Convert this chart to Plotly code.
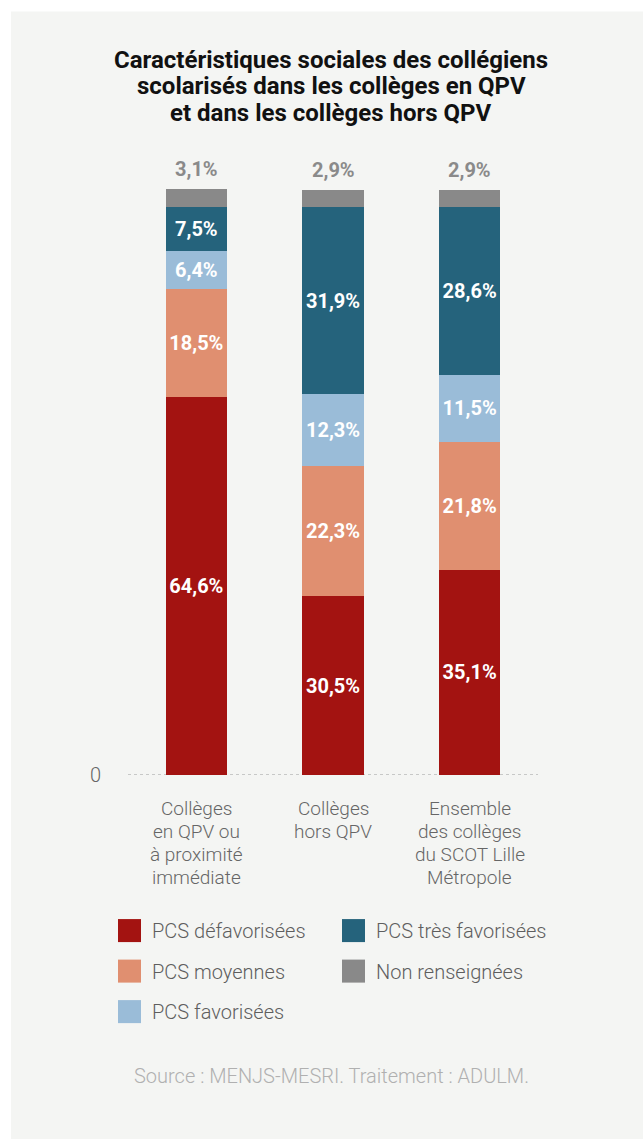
import plotly.graph_objects as go

# ---------------- data ----------------
categories = [
    "Collèges<br>en QPV ou<br>à proximité<br>immédiate",
    "Collèges<br>hors QPV",
    "Ensemble<br>des collèges<br>du SCOT Lille<br>Métropole",
]
series_names = [
    "PCS défavorisées",
    "PCS moyennes",
    "PCS favorisées",
    "PCS très favorisées",
    "Non renseignées",
]
pcs_defavorisees = [64.6, 30.5, 35.1]
pcs_moyennes = [18.5, 22.3, 21.8]
pcs_favorisees = [6.4, 12.3, 11.5]
pcs_tres_favorisees = [7.5, 31.9, 28.6]
non_renseignees = [3.1, 2.9, 2.9]

series_values = [pcs_defavorisees, pcs_moyennes, pcs_favorisees,
                 pcs_tres_favorisees, non_renseignees]
series_colors = ["#a31311", "#e08f70", "#9abcd8", "#25637c", "#898989"]
# legend grid placement (column, row)
legend_slots = [(0, 0), (0, 1), (0, 2), (1, 0), (1, 1)]

title_lines = [
    "Caractéristiques sociales des collégiens",
    "scolarisés dans les collèges en QPV",
    "et dans les collèges hors QPV",
]
source_text = "Source : MENJS-MESRI. Traitement : ADULM."

FONT = "Roboto"
W, H = 643, 1139
Y_MAX = 102
PL, PR, PB = 128, 538, 775          # plot area in pixels
PX_PER_UNIT = 5.85                  # 100 % -> 585 px
PT = PB - Y_MAX * PX_PER_UNIT


def fmt(v):
    return f"{v:.1f}".replace(".", ",") + "%"


def px_x(p):
    return (p - PL) / (PR - PL)


def px_y(p):
    return (PB - p) / (PB - PT)


fig = go.Figure()
x_idx = list(range(len(categories)))

for i, (name, vals, col) in enumerate(zip(series_names, series_values, series_colors)):
    is_top = i == len(series_names) - 1
    fig.add_trace(go.Bar(
        x=x_idx,
        y=vals,
        name=name,
        marker=dict(color=col, line=dict(width=0)),
        width=0.45,
        text=None if is_top else [fmt(v) for v in vals],
        textposition="inside",
        insidetextanchor="middle",
        textangle=0,
        textfont=dict(family=FONT, size=20, color="white", weight=700),
        showlegend=False,
        hoverinfo="skip",
    ))

annotations = []
# values of the top (grey) segment, shown above the bars
totals = [sum(s[j] for s in series_values) for j in x_idx]
for j in x_idx:
    annotations.append(dict(
        x=j, y=totals[j], xref="x", yref="y",
        text=fmt(non_renseignees[j]), showarrow=False,
        yanchor="middle", yshift=20,
        font=dict(family=FONT, size=20, color="#8a8a8a", weight=700),
    ))

# category labels, one annotation per line (tight line spacing)
for j, cat in enumerate(categories):
    for k, line in enumerate(cat.split("<br>")):
        annotations.append(dict(
            x=j, y=px_y(808 + 23 * k), xref="x", yref="paper",
            text=line, showarrow=False, xanchor="center", yanchor="middle",
            font=dict(family=FONT, size=19, color="#666666", weight=300),
        ))

# title, one annotation per line
for k, line in enumerate(title_lines):
    annotations.append(dict(
        x=px_x(331), y=px_y(60 + 26.5 * k), xref="paper", yref="paper",
        text=line, showarrow=False, xanchor="center", yanchor="middle",
        font=dict(family=FONT, size=24, color="#111111", weight=700),
    ))

shapes = [dict(type="rect", xref="paper", yref="paper",
               x0=px_x(11), x1=px_x(W + 5), y0=px_y(12), y1=px_y(H + 5),
               fillcolor="#f4f5f3", line=dict(width=0), layer="below"),
          # dotted baseline
          dict(type="line", xref="paper", yref="y", x0=0, x1=1, y0=0, y1=0,
               line=dict(color="#9a9a9a", width=1, dash="dot"), layer="below")]

# custom legend
col_x = [118, 342]
row_y = [919, 959.5, 1000]
for name, col, (c, r) in zip(series_names, series_colors, legend_slots):
    x0 = col_x[c]
    y0 = row_y[r]
    shapes.append(dict(type="rect", xref="paper", yref="paper",
                       x0=px_x(x0), x1=px_x(x0 + 23),
                       y0=px_y(y0 + 23), y1=px_y(y0),
                       fillcolor=col, line=dict(width=0)))
    annotations.append(dict(
        x=px_x(x0 + 32), y=px_y(y0 + 12), xref="paper", yref="paper",
        text=name, showarrow=False, xanchor="left", yanchor="middle",
        font=dict(family=FONT, size=20, color="#5e5e5e", weight=300),
    ))

annotations.append(dict(
    x=px_x(331), y=px_y(1076), xref="paper", yref="paper",
    text=source_text, showarrow=False, xanchor="center", yanchor="middle",
    font=dict(family=FONT, size=20, color="#b0b0b0", weight=300),
))

fig.update_layout(
    width=W, height=H,
    margin=dict(l=PL, r=W - PR, t=PT, b=H - PB, pad=0),
    barmode="stack",
    paper_bgcolor="white",
    plot_bgcolor="rgba(0,0,0,0)",
    font=dict(family=FONT, color="#666666"),
    xaxis=dict(
        range=[-0.5, 2.5],
        tickvals=x_idx, ticktext=["" for _ in x_idx],
        showgrid=False, zeroline=False, showline=False, ticks="",
        fixedrange=True,
    ),
    yaxis=dict(
        range=[0, Y_MAX],
        tickvals=[0], ticktext=["0"],
        showgrid=False, zeroline=False, showline=False, ticks="",
        tickfont=dict(family=FONT, size=20, color="#666666", weight=300),
        ticklabelstandoff=26,
        fixedrange=True,
    ),
    shapes=shapes,
    annotations=annotations,
    showlegend=False,
)

fig.write_html("out.html", config={"displayModeBar": False})
